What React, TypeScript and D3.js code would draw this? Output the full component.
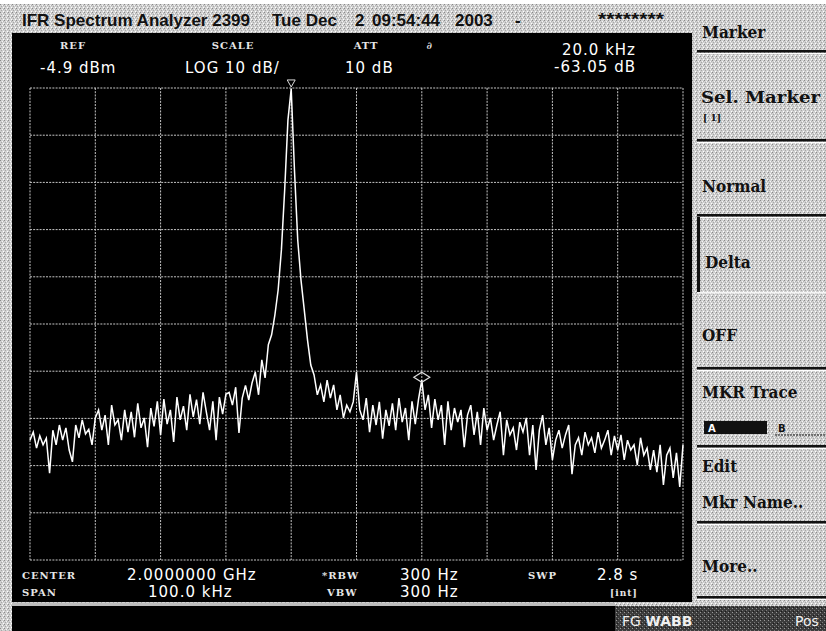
import React from 'react';
import * as d3 from 'd3';

// Sweep trace levels (dBm), one value per 0.5 kHz bin from -50 kHz to +50 kHz around centre
const traceDbm: number[] = [
  -79.5, -77.8, -81.2, -78.6, -80.5, -79.1,
  -86.5,
  -77.4, -80.5, -76.3, -79.5, -76.9, -81.6,
  -84.1,
  -76.3, -79.0, -75.2, -78.2, -77.2, -80.5, -74.8,
  -73.1, -77.4, -74.2, -80.5, -72.1, -76.3, -75.2, -79.5, -73.1, -77.8,
  -73.5, -78.9, -71.7, -76.9, -74.8, -81.0, -72.7, -76.6, -71.3, -78.4,
  -70.8, -76.1, -73.1, -79.9, -70.4, -75.2, -72.3, -77.4, -69.8, -74.6,
  -70.9, -76.1, -69.4, -73.5, -77.4, -71.3, -79.5, -70.4, -74.0, -69.8,
  -69.4, -72.1, -68.3, -78.0, -70.6, -67.9, -71.0, -67.4,
  -65.1, -69.9, -62.5, -66.3, -59.3, -57.2, -53.0, -47.7, -39.2, -26.5, -11.7, -5.1,
  -22.3, -37.1, -45.6, -51.9, -58.3, -63.6, -65.7, -69.9, -67.8, -71.4, -66.8, -70.6, -67.8, -73.1, -69.9, -74.8, -72.1, -73.5, -71.4, -65.1, -73.1,
  -75.2, -70.6, -77.8, -72.1, -76.3, -71.4, -79.2, -73.1, -76.5,
  -71.7, -77.4, -70.6, -75.7, -72.7, -79.5, -71.3, -76.1, -70.8,
  -66.8,
  -73.1, -69.9, -76.9, -70.8, -75.2, -72.1, -80.5, -71.3, -77.4, -72.7,
  -75.7, -73.1, -81.0, -74.2, -72.1, -78.4, -73.5, -80.5, -72.7, -77.4,
  -74.8, -79.5, -76.3, -73.5, -82.7, -75.2, -78.4, -76.9, -81.6, -75.7,
  -77.8, -74.8, -82.7, -76.3, -85.8, -77.4, -74.2, -80.5, -76.9, -83.7,
  -79.5, -77.4, -81.2, -78.4, -76.3, -86.7, -80.5, -79.0, -82.7, -77.8,
  -80.5, -79.0, -82.2, -77.8, -81.2, -79.5, -77.4, -82.7, -78.6, -81.6,
  -78.4, -83.7, -79.5, -81.6, -80.5, -84.8, -79.0, -82.7, -81.2, -85.8,
  -81.6, -86.3, -80.5, -89.0, -82.7, -81.2, -87.5, -82.2, -89.4, -80.5,
];

const spanKHz: [number, number] = [-50, 50];
const refLevelDbm = -4.9;
const dbPerDiv = 10;
const gridDivs = [0, 1, 2, 3, 4, 5, 6, 7, 8, 9, 10];
const peakMarkerKHz = -10;
const deltaMarkerKHz = 10;

const titleParts = ['IFR Spectrum Analyzer 2399', 'Tue Dec', '2', '09:54:44', '2003', '-', '********'];
const topLabels = ['REF', 'SCALE', 'ATT', '\u2202'];
const topValues = ['-4.9 dBm', 'LOG 10 dB/', '10 dB'];
const markerReadout = ['20.0 kHz', '-63.05 dB'];
const bottomLabels = ['CENTER', 'SPAN', '*RBW', 'VBW', 'SWP', '[int]'];
const bottomValues = ['2.0000000 GHz', '100.0 kHz', '300 Hz', '300 Hz', '2.8 s'];
const menuItems = ['Marker', 'Sel. Marker', '[ 1]', 'Normal', 'Delta', 'OFF', 'MKR Trace', 'Edit', 'Mkr Name..', 'More..'];
const statusItems = ['FG', 'WABB', 'Pos'];

const W = 826;
const H = 631;
const PL = 30, PR = 683, PT = 88, PB = 560;

export default function App() {
  const xScale = d3.scaleLinear().domain(spanKHz).range([PL, PR]);
  const yScale = d3.scaleLinear().domain([refLevelDbm - dbPerDiv * 10, refLevelDbm]).range([PB, PT]);
  const binScale = d3.scaleLinear().domain([0, traceDbm.length - 1]).range(spanKHz);
  const gx = d3.scaleLinear().domain([0, 10]).range([PL, PR]);
  const gy = d3.scaleLinear().domain([0, 10]).range([PT, PB]);

  const line = d3
    .line<number>()
    .x((_, i) => xScale(binScale(i)))
    .y((d) => yScale(d))
    .curve(d3.curveLinear);

  const peakIdx = Math.round(binScale.invert(peakMarkerKHz));
  const deltaIdx = Math.round(binScale.invert(deltaMarkerKHz));
  const pmx = xScale(peakMarkerKHz);
  const pmy = yScale(traceDbm[peakIdx]);
  const dmx = xScale(deltaMarkerKHz);
  const dmy = yScale(traceDbm[deltaIdx]) - 3;

  const valFont = { fontFamily: 'DejaVu Sans, sans-serif', fontSize: 15, fill: '#ffffff', letterSpacing: 1 } as const;
  const lblFont = { fontFamily: 'DejaVu Serif, serif', fontSize: 10, fill: '#e6e6e6', fontWeight: 700, letterSpacing: 1 } as const;
  const menuFont = { fontFamily: 'DejaVu Serif, serif', fontSize: 17, fontWeight: 700, fontStretch: 'condensed', fill: '#111' } as const;
  const titleFont = { fontFamily: 'Liberation Sans, Arial, sans-serif', fontSize: 17, fontWeight: 700, fill: '#111' } as const;

  const separators = [50, 139, 214, 367, 445, 521, 596];

  return (
    <svg width={W} height={H} style={{ position: 'absolute', left: 0, top: 0, display: 'block' }}>
      <defs>
        <pattern id="dith" width="4" height="4" patternUnits="userSpaceOnUse">
          <rect width="4" height="4" fill="#d0d0d0" />
          <rect x="0" y="0" width="1" height="1" fill="#8a8a8a" />
          <rect x="2" y="1" width="1" height="1" fill="#f5f5f5" />
          <rect x="1" y="2" width="1" height="1" fill="#a6a6a6" />
          <rect x="3" y="3" width="1" height="1" fill="#ffffff" />
          <rect x="3" y="1" width="1" height="1" fill="#b4b4b4" />
        </pattern>
        <pattern id="dithDark" width="4" height="4" patternUnits="userSpaceOnUse">
          <rect width="4" height="4" fill="#3c3c3c" />
          <rect x="0" y="0" width="1" height="1" fill="#9a9a9a" />
          <rect x="2" y="2" width="1" height="1" fill="#7a7a7a" />
          <rect x="1" y="3" width="1" height="1" fill="#1a1a1a" />
        </pattern>
      </defs>

      <rect x={0} y={0} width={W} height={H} fill="url(#dith)" />
      <rect x={0} y={0} width={W} height={4} fill="#ffffff" />

      {/* title */}
      <g style={titleFont}>
        <text x={22} y={26}>{titleParts[0]}</text>
        <text x={272} y={26}>{titleParts[1]}</text>
        <text x={355} y={26}>{titleParts[2]}</text>
        <text x={372} y={26}>{titleParts[3]}</text>
        <text x={455} y={26}>{titleParts[4]}</text>
        <text x={515} y={26}>{titleParts[5]}</text>
        <text x={598} y={25} textLength={66} lengthAdjust="spacingAndGlyphs">{titleParts[6]}</text>
      </g>

      {/* main black screen */}
      <rect x={12} y={33} width={680} height={569} fill="#000" />
      <rect x={12} y={606} width={603} height={25} fill="#000" />
      <rect x={615} y={606} width={211} height={25} fill="url(#dithDark)" />

      {/* header labels */}
      <g style={lblFont} textAnchor="middle">
        <text x={73} y={49}>{topLabels[0]}</text>
        <text x={233} y={49}>{topLabels[1]}</text>
        <text x={366} y={49}>{topLabels[2]}</text>
        <text x={430} y={49} fontStyle="italic">{topLabels[3]}</text>
      </g>
      <g style={valFont}>
        <text x={40} y={73}>{topValues[0]}</text>
        <text x={185} y={73}>{topValues[1]}</text>
        <text x={345} y={73}>{topValues[2]}</text>
        <text x={636} y={55} textAnchor="end">{markerReadout[0]}</text>
        <text x={636} y={72} textAnchor="end">{markerReadout[1]}</text>
      </g>

      {/* grid */}
      <g stroke="#dcdcdc" strokeWidth={1} strokeDasharray="2 1.2" opacity={0.9}>
        {gridDivs.map((d) => (
          <line key={'v' + d} x1={gx(d)} x2={gx(d)} y1={PT} y2={PB} />
        ))}
        {gridDivs.map((d) => (
          <line key={'h' + d} x1={PL} x2={PR} y1={gy(d)} y2={gy(d)} />
        ))}
      </g>

      {/* trace */}
      <path d={line(traceDbm) || ''} fill="none" stroke="#ffffff" strokeWidth={1.5} strokeLinejoin="miter" />

      {/* markers */}
      <path
        d={`M${pmx - 4},${pmy - 9} L${pmx + 4},${pmy - 9} L${pmx},${pmy - 2} Z`}
        fill="none"
        stroke="#ddd"
        strokeWidth={1}
      />
      <path
        d={`M${dmx - 8},${dmy} L${dmx},${dmy - 5} L${dmx + 8},${dmy} L${dmx},${dmy + 5} Z`}
        fill="none"
        stroke="#ddd"
        strokeWidth={1.2}
      />

      {/* bottom settings */}
      <g style={lblFont}>
        <text x={22} y={579}>{bottomLabels[0]}</text>
        <text x={22} y={596}>{bottomLabels[1]}</text>
        <text x={322} y={579}>{bottomLabels[2]}</text>
        <text x={327} y={596}>{bottomLabels[3]}</text>
        <text x={528} y={579}>{bottomLabels[4]}</text>
        <text x={610} y={596} fontSize={9}>{bottomLabels[5]}</text>
      </g>
      <g style={valFont}>
        <text x={127} y={580}>{bottomValues[0]}</text>
        <text x={148} y={597}>{bottomValues[1]}</text>
        <text x={400} y={580}>{bottomValues[2]}</text>
        <text x={400} y={597}>{bottomValues[3]}</text>
        <text x={597} y={580}>{bottomValues[4]}</text>
      </g>
      <rect x={12} y={603} width={603} height={3} fill="#bdbdbd" />

      {/* status box */}
      <g style={{ fontFamily: 'DejaVu Sans, sans-serif', fontSize: 14, fill: '#f0f0f0' }}>
        <text x={622} y={626}>
          {statusItems[0]} <tspan fontWeight={700}>{statusItems[1]}</tspan>
        </text>
        <text x={795} y={626}>{statusItems[2]}</text>
      </g>

      {/* soft-key menu */}
      {separators.map((y) => (
        <g key={'s' + y}>
          <rect x={697} y={y} width={129} height={2.5} fill="#111" />
          <rect x={697} y={y + 3} width={129} height={1} fill="#ffffff" />
        </g>
      ))}
      <rect x={697} y={292} width={129} height={1.5} fill="#f4f4f4" />
      <rect x={697} y={217} width={3} height={75} fill="#111" />
      <g style={menuFont}>
        <text x={702} y={38}>{menuItems[0]}</text>
        <text x={701} y={103} textLength={119} lengthAdjust="spacingAndGlyphs">{menuItems[1]}</text>
        <text x={703} y={121} fontSize={10}>{menuItems[2]}</text>
        <text x={702} y={192}>{menuItems[3]}</text>
        <text x={705} y={268}>{menuItems[4]}</text>
        <text x={702} y={341}>{menuItems[5]}</text>
        <text x={702} y={398}>{menuItems[6]}</text>
        <text x={702} y={472}>{menuItems[7]}</text>
        <text x={702} y={508}>{menuItems[8]}</text>
        <text x={702} y={572}>{menuItems[9]}</text>
      </g>
      <rect x={704} y={421} width={63} height={13} fill="#111" />
      <text x={708} y={432} style={{ fontFamily: 'DejaVu Sans, sans-serif', fontSize: 10, fontWeight: 700, fill: '#fff' }}>A</text>
      <text x={778} y={432} style={{ fontFamily: 'DejaVu Sans, sans-serif', fontSize: 10, fontWeight: 700, fill: '#111' }}>B</text>
      <line x1={775} x2={826} y1={435} y2={435} stroke="#111" strokeDasharray="2 1" />
    </svg>
  );
}
